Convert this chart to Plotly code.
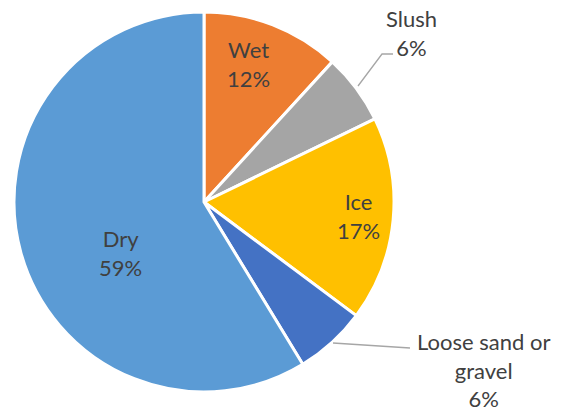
import plotly.graph_objects as go

labels = ["Wet", "Slush", "Ice", "Loose sand or gravel", "Dry"]
values = [11.8, 6.0, 17.4, 6.1, 58.7]
colors = ["#ED7D31", "#A5A5A5", "#FFC000", "#4472C4", "#5B9BD5"]
label_text = ["Wet", "Slush", "Ice", "Loose sand or<br>gravel", "Dry"]

W, H = 561, 413
OFF = 8  # page body margin offset
total = sum(values)
pcts = [f"{round(v / total * 100):d}%" for v in values]

def px2p(x, y):
    return (x - OFF) / W, 1 - (y - OFF) / H

x0, y1 = px2p(14, 12)
x1, y0 = px2p(394, 392)
fig = go.Figure(go.Pie(
    labels=labels, values=values, sort=False, direction="clockwise", rotation=0,
    marker=dict(colors=colors, line=dict(color="white", width=3)),
    textinfo="none", hoverinfo="label+percent",
    domain=dict(x=[x0, x1], y=[y0, y1]),
    showlegend=False,
))

# label centres in page pixels (x, y from top)
pos = [(248, 64), (411, 33), (358, 216), (483, 370), (120, 253)]
font = dict(family="Lato, 'Open Sans', sans-serif", size=22, color="#404040")
for i, (px, py) in enumerate(pos):
    ax, ay = px2p(px, py)
    fig.add_annotation(
        x=ax, y=ay, xref="paper", yref="paper",
        text=f"{label_text[i]}<br>{pcts[i]}", showarrow=False,
        font=font, align="center", xanchor="center", yanchor="middle",
    )

# leader lines
for pts in ([(358, 86), (382, 54), (393, 54)], [(333, 343), (410, 348)]):
    path = "M " + " L ".join(f"{px2p(x, y)[0]},{px2p(x, y)[1]}" for x, y in pts)
    fig.add_shape(type="path", xref="paper", yref="paper", path=path,
                  line=dict(color="#A6A6A6", width=1.3))

fig.update_layout(width=W, height=H, margin=dict(l=0, r=0, t=0, b=0),
                  paper_bgcolor="white", plot_bgcolor="white")
fig.write_html("out.html")
